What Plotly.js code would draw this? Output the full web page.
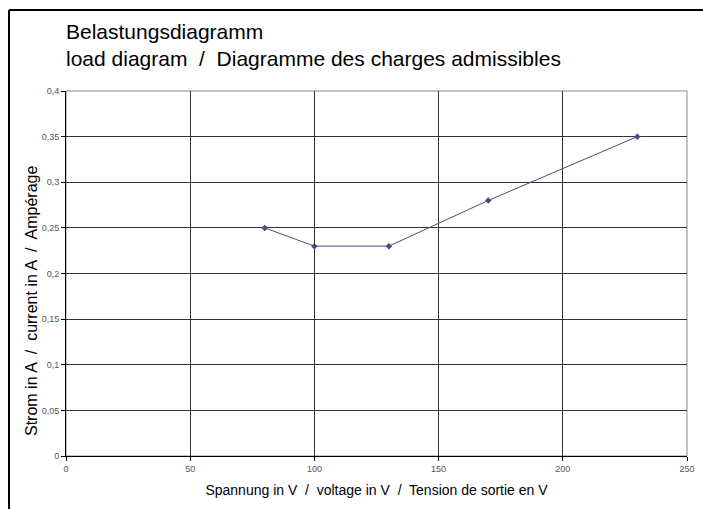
<!DOCTYPE html>
<html>
<head>
<meta charset="utf-8">
<script src="https://cdn.plot.ly/plotly-3.0.1.min.js"></script>
<style>
html,body{margin:0;padding:0;background:#fff;}
#chart{width:703px;height:509px;}
</style>
</head>
<body>
<div id="chart"></div>
<script>
const voltage = [80, 100, 130, 170, 230];
const current = [0.25, 0.23, 0.23, 0.28, 0.35];
const xTicks = [0, 50, 100, 150, 200, 250];
const yTicks = [0, 0.05, 0.1, 0.15, 0.2, 0.25, 0.3, 0.35, 0.4];
const titleLines = ['Belastungsdiagramm', 'load diagram  /  Diagramme des charges admissibles'];
const xTitle = 'Spannung in V  /  voltage in V  /  Tension de sortie en V';
const yTitle = 'Strom in A  /  current in A  /  Ampérage';

const W = 703, H = 509;
const M = {l: 66, r: 16, t: 91, b: 53};
const pw = W - M.l - M.r, ph = H - M.t - M.b;
const px = v => (v - M.l) / pw;
const py = v => (H - M.b - v) / ph;

const font = "'Liberation Sans', Arial, Helvetica, sans-serif";

const trace = {
  x: voltage, y: current, type: 'scatter', mode: 'lines+markers',
  line: {color: '#4a4a80', width: 1},
  marker: {symbol: 'diamond', size: 5, color: '#4a4a80'},
  hoverinfo: 'x+y'
};

const layout = {
  width: W, height: H,
  margin: M,
  paper_bgcolor: '#fff', plot_bgcolor: '#fff',
  separators: ',.',
  showlegend: false,
  font: {family: font, color: '#000'},
  annotations: [{
    text: titleLines.join('<br>'),
    font: {family: font, size: 21, color: '#000'},
    xref: 'paper', yref: 'paper', x: px(64), xanchor: 'left', align: 'left',
    y: py(18), yanchor: 'top', showarrow: false
  }, {
    text: yTitle, textangle: -90,
    font: {family: font, size: 16, color: '#000'},
    xref: 'paper', yref: 'paper', x: px(31), xanchor: 'center',
    y: py(301), yanchor: 'middle', showarrow: false
  }],
  xaxis: {
    range: [0, 250], tickvals: xTicks, ticktext: xTicks.map(String),
    showgrid: true, gridcolor: '#333', gridwidth: 1,
    showline: true, linecolor: '#000', linewidth: 1, mirror: false,
    ticks: 'outside', ticklen: 4, tickcolor: '#000',
    tickfont: {family: font, size: 9, color: '#555'},
    zeroline: false,
    title: {text: xTitle, font: {family: font, size: 14, color: '#000'}, standoff: 12}
  },
  yaxis: {
    range: [0, 0.4], tickvals: yTicks,
    ticktext: yTicks.map(v => String(v).replace('.', ',')),
    showgrid: true, gridcolor: '#333', gridwidth: 1,
    showline: true, linecolor: '#000', linewidth: 1,
    ticks: 'outside', ticklen: 4, tickcolor: '#000',
    tickfont: {family: font, size: 9, color: '#555'},
    zeroline: false
  },
  shapes: [
    {type: 'rect', xref: 'paper', yref: 'paper', x0: 0, x1: 1, y0: 0, y1: 1,
     line: {color: '#888', width: 1}, layer: 'below'},
    {type: 'line', xref: 'paper', yref: 'paper', x0: px(9), x1: px(W + 5), y0: py(10), y1: py(10),
     line: {color: '#000', width: 2}},
    {type: 'line', xref: 'paper', yref: 'paper', x0: px(9), x1: px(9), y0: py(10), y1: py(H + 5),
     line: {color: '#000', width: 2}}
  ]
};

Plotly.newPlot('chart', [trace], layout, {displayModeBar: false, staticPlot: true});
</script>
</body>
</html>
